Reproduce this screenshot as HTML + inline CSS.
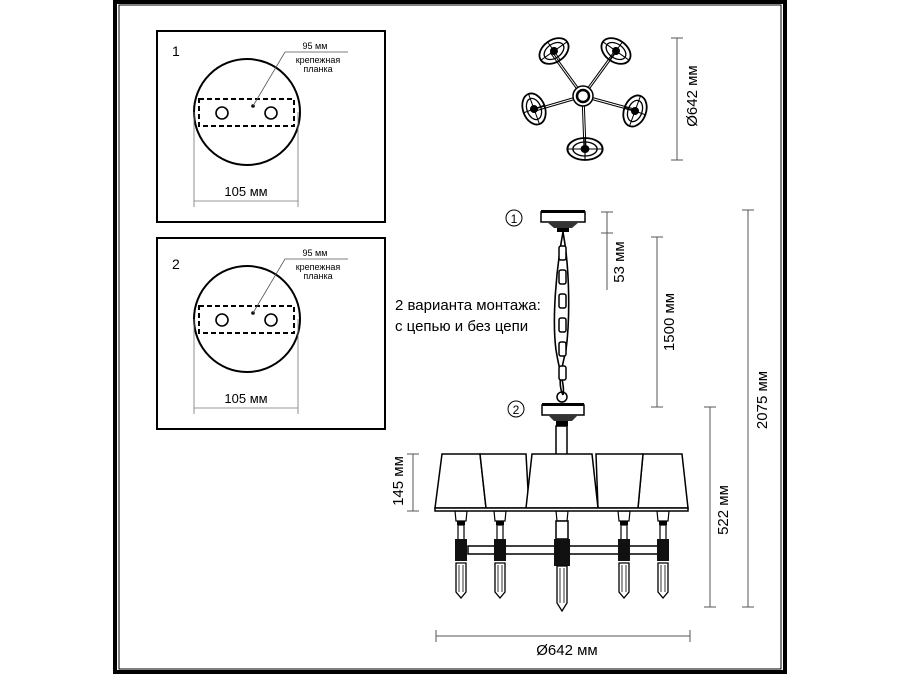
<!DOCTYPE html>
<html><head><meta charset="utf-8"><style>
html,body{margin:0;padding:0;background:#fff;}
svg{display:block;font-family:"Liberation Sans","DejaVu Sans",sans-serif;}
</style></head><body>
<svg width="900" height="675" viewBox="0 0 900 675" xmlns="http://www.w3.org/2000/svg">
<defs>
<g id="mount">
  <rect x="157" y="31" width="228" height="191" fill="none" stroke="#000" stroke-width="2"/>
  <circle cx="247" cy="112" r="53" fill="none" stroke="#000" stroke-width="2"/>
  <rect x="199" y="99" width="95" height="27" fill="none" stroke="#000" stroke-width="2" stroke-dasharray="5,3"/>
  <circle cx="222" cy="113" r="6" fill="none" stroke="#000" stroke-width="1.6"/>
  <circle cx="271" cy="113" r="6" fill="none" stroke="#000" stroke-width="1.6"/>
  <circle cx="253" cy="106" r="1.8" fill="#000"/>
  <polyline points="253,106 285,52 348,52" fill="none" stroke="#555" stroke-width="0.8"/>
  <text x="315" y="49" font-size="9" text-anchor="middle">95 мм</text>
  <text x="318" y="63" font-size="9" text-anchor="middle">крепежная</text>
  <text x="318" y="72" font-size="9" text-anchor="middle">планка</text>
  <line x1="194" y1="112" x2="194" y2="207" stroke="#777" stroke-width="0.8"/>
  <line x1="298" y1="112" x2="298" y2="207" stroke="#777" stroke-width="0.8"/>
  <line x1="194" y1="201" x2="298" y2="201" stroke="#777" stroke-width="0.8"/>
  <text x="246" y="196" font-size="13" text-anchor="middle">105 мм</text>
</g>
<g id="ring">
  <ellipse cx="0" cy="0" rx="16" ry="11" fill="none" stroke="#000" stroke-width="1.8"/>
  <ellipse cx="0" cy="0" rx="11" ry="7" fill="none" stroke="#000" stroke-width="1.3"/>
  <line x1="-16" y1="0" x2="16" y2="0" stroke="#000" stroke-width="1"/>
  <line x1="0" y1="-11" x2="0" y2="11" stroke="#000" stroke-width="1"/>
  <circle cx="0" cy="0" r="4" fill="#000"/>
</g>
<g id="candle">
  <path d="M-6,511 L6,511 L5,521 L-5,521 Z" fill="#fff" stroke="#000" stroke-width="1.2"/>
  <rect x="-4" y="521" width="8" height="4" fill="#000"/>
  <rect x="-3" y="525" width="6" height="15" fill="#fff" stroke="#000" stroke-width="1.2"/>
  <rect x="-6" y="539" width="12" height="22" fill="#111"/>
  <path d="M-5,563 L5,563 L5,592 L0,598 L-5,592 Z" fill="#fff" stroke="#000" stroke-width="1.3"/>
  <line x1="-2" y1="565" x2="-2" y2="592" stroke="#000" stroke-width="0.8"/>
  <line x1="2" y1="565" x2="2" y2="592" stroke="#000" stroke-width="0.8"/>
</g>
</defs>

<!-- frame -->
<rect x="115" y="2" width="670" height="670" fill="none" stroke="#000" stroke-width="4"/>
<rect x="119" y="5" width="662" height="664" fill="none" stroke="#000" stroke-width="1"/>

<use href="#mount"/>
<text x="172" y="56" font-size="14">1</text>
<use href="#mount" transform="translate(0,207)"/>
<text x="172" y="269" font-size="14">2</text>

<!-- top view -->
<g stroke="#000" stroke-width="3" fill="none">
  <line x1="583" y1="96" x2="551" y2="52"/>
  <line x1="583" y1="96" x2="615" y2="52"/>
  <line x1="583" y1="96" x2="535" y2="110"/>
  <line x1="583" y1="96" x2="634" y2="110"/>
  <line x1="583" y1="96" x2="585" y2="149"/>
</g>
<g stroke="#fff" stroke-width="1" fill="none">
  <line x1="583" y1="96" x2="551" y2="52"/>
  <line x1="583" y1="96" x2="615" y2="52"/>
  <line x1="583" y1="96" x2="535" y2="110"/>
  <line x1="583" y1="96" x2="634" y2="110"/>
  <line x1="583" y1="96" x2="585" y2="149"/>
</g>
<use href="#ring" transform="translate(554,51) rotate(-35)"/>
<use href="#ring" transform="translate(616,51) rotate(35)"/>
<use href="#ring" transform="translate(534,109) rotate(70)"/>
<use href="#ring" transform="translate(635,111) rotate(-70)"/>
<use href="#ring" transform="translate(585,149) scale(1.1,1)"/>
<circle cx="583" cy="96" r="10" fill="#fff" stroke="#000" stroke-width="1.5"/>
<circle cx="583" cy="96" r="6" fill="#fff" stroke="#000" stroke-width="2.5"/>
<line x1="677" y1="38" x2="677" y2="160" stroke="#555" stroke-width="1"/>
<line x1="671" y1="38" x2="683" y2="38" stroke="#555" stroke-width="1"/>
<line x1="671" y1="160" x2="683" y2="160" stroke="#555" stroke-width="1"/>
<text transform="translate(697,96) rotate(-90)" font-size="15" text-anchor="middle">Ø642 мм</text>

<!-- side view canopy 1 -->
<circle cx="514" cy="218" r="8" fill="none" stroke="#000" stroke-width="1"/>
<text x="514" y="223" font-size="12" text-anchor="middle">1</text>
<rect x="541" y="212" width="44" height="10" fill="#fff" stroke="#000" stroke-width="1.5"/>
<rect x="541" y="210" width="44" height="3" fill="#000"/>
<path d="M547,222 L579,222 L572,228 L554,228 Z" fill="#333"/>
<rect x="557" y="228" width="12" height="4" fill="#000"/>
<!-- chain -->
<g stroke="#000" stroke-width="1.6" fill="none">
  <path d="M563,232 C556,270 552,320 556,350 C560,375 565,385 563,395"/>
  <path d="M563,232 C570,270 570,320 566,350 C560,375 558,385 563,395"/>
</g>
<g fill="#fff" stroke="#000" stroke-width="1.5">
  <rect x="559" y="246" width="7" height="14" rx="2"/>
  <rect x="559" y="270" width="7" height="14" rx="2"/>
  <rect x="559" y="294" width="7" height="14" rx="2"/>
  <rect x="559" y="318" width="7" height="14" rx="2"/>
  <rect x="559" y="342" width="7" height="14" rx="2"/>
  <rect x="559" y="366" width="7" height="14" rx="2"/>
</g>
<circle cx="562" cy="397" r="5" fill="none" stroke="#000" stroke-width="1.5"/>
<!-- canopy 2 -->
<circle cx="516" cy="409" r="8" fill="none" stroke="#000" stroke-width="1"/>
<text x="516" y="414" font-size="12" text-anchor="middle">2</text>
<rect x="542" y="405" width="42" height="10" fill="#fff" stroke="#000" stroke-width="1.5"/>
<rect x="542" y="403" width="42" height="3" fill="#000"/>
<path d="M548,415 L578,415 L572,421 L554,421 Z" fill="#333"/>
<rect x="556" y="421" width="12" height="5" fill="#000"/>
<rect x="556" y="426" width="11" height="29" fill="#fff" stroke="#000" stroke-width="1.5"/>

<!-- bar -->
<rect x="468" y="546" width="192" height="8" fill="#fff" stroke="#000" stroke-width="1.5"/>
<use href="#candle" transform="translate(461,0)"/>
<use href="#candle" transform="translate(500,0)"/>
<use href="#candle" transform="translate(624,0)"/>
<use href="#candle" transform="translate(663,0)"/>
<!-- center candle -->
<path d="M556,511 L568,511 L567,521 L557,521 Z" fill="#fff" stroke="#000" stroke-width="1.2"/>
<rect x="556" y="521" width="12" height="18" fill="#fff" stroke="#000" stroke-width="1.5"/>
<rect x="554" y="539" width="16" height="27" fill="#111"/>
<path d="M557,566 L567,566 L567,603 L562,611 L557,603 Z" fill="#fff" stroke="#000" stroke-width="1.3"/>
<line x1="560" y1="568" x2="560" y2="603" stroke="#000" stroke-width="0.8"/>
<line x1="564" y1="568" x2="564" y2="603" stroke="#000" stroke-width="0.8"/>

<!-- shades -->
<g fill="#fff" stroke="#000" stroke-width="1.5">
  <path d="M442,454 L480,454 L486,508 L435,508 Z"/>
  <path d="M643,454 L682,454 L688,508 L638,508 Z"/>
  <path d="M480,454 L526,454 L529,508 L486,508 Z"/>
  <path d="M596,454 L643,454 L638,508 L598,508 Z"/>
  <path d="M532,454 L592,454 L598,508 L526,508 Z"/>
  <rect x="435" y="508" width="253" height="3"/>
</g>

<!-- text -->
<text x="395" y="310" font-size="15">2 варианта монтажа:</text>
<text x="395" y="331" font-size="15">с цепью и без цепи</text>

<!-- dimensions -->
<g stroke="#555" stroke-width="1">
  <line x1="607" y1="212" x2="607" y2="290"/><line x1="601" y1="212" x2="613" y2="212"/><line x1="601" y1="233" x2="613" y2="233"/>
  <line x1="657" y1="237" x2="657" y2="407"/><line x1="651" y1="237" x2="663" y2="237"/><line x1="651" y1="407" x2="663" y2="407"/>
  <line x1="748" y1="210" x2="748" y2="607"/><line x1="742" y1="210" x2="754" y2="210"/><line x1="742" y1="607" x2="754" y2="607"/>
  <line x1="710" y1="407" x2="710" y2="607"/><line x1="704" y1="407" x2="716" y2="407"/><line x1="704" y1="607" x2="716" y2="607"/>
  <line x1="413" y1="454" x2="413" y2="511"/><line x1="407" y1="454" x2="419" y2="454"/><line x1="407" y1="511" x2="419" y2="511"/>
  <line x1="436" y1="636" x2="690" y2="636"/><line x1="436" y1="630" x2="436" y2="642"/><line x1="690" y1="630" x2="690" y2="642"/>
</g>
<text transform="translate(624,262) rotate(-90)" font-size="15" text-anchor="middle">53 мм</text>
<text transform="translate(674,322) rotate(-90)" font-size="15" text-anchor="middle">1500 мм</text>
<text transform="translate(767,400) rotate(-90)" font-size="15" text-anchor="middle">2075 мм</text>
<text transform="translate(728,510) rotate(-90)" font-size="15" text-anchor="middle">522 мм</text>
<text transform="translate(403,481) rotate(-90)" font-size="15" text-anchor="middle">145 мм</text>
<text x="567" y="655" font-size="15" text-anchor="middle">Ø642 мм</text>
</svg>
</body></html>
